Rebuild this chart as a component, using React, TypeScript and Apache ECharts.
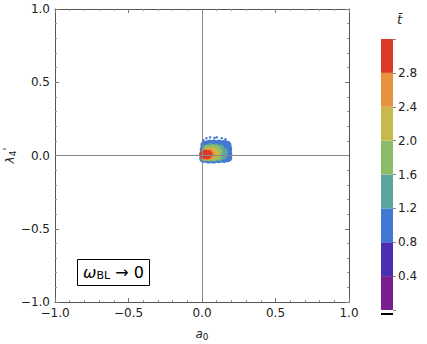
import React, { useEffect, useRef } from "react";
import * as echarts from "echarts";

const FONT = "DejaVu Sans";

// colour bins of t̄ (0–3.2 in steps of 0.4)
const binEdges = [0, 0.4, 0.8, 1.2, 1.6, 2.0, 2.4, 2.8, 3.2];
const binColors = ["#7a1f8e", "#4a2fb2", "#4277d3", "#5aa59e", "#8cbb6a", "#c9b84b", "#e8923e", "#dc3b29"];
const cbTicks = [0.4, 0.8, 1.2, 1.6, 2.0, 2.4, 2.8];

// scatter layers, [a0, lambda4']
const sparseDots = [[0.03, 0.118], [0.055, 0.124], [0.085, 0.12], [0.1, 0.124], [0.135, 0.118], [0.16, 0.11], [0.008, 0.105]];
const sparseT = 0.9;
const blueOuter = [
  [0.012, -0.02], [0.045, -0.024], [0.08, -0.024], [0.115, -0.022], [0.15, -0.02], [0.175, -0.015],
  [0.012, 0.01], [0.045, 0.01], [0.08, 0.01], [0.115, 0.01], [0.15, 0.01], [0.175, 0.012],
  [0.015, 0.04], [0.045, 0.04], [0.08, 0.04], [0.115, 0.04], [0.15, 0.04], [0.175, 0.045],
  [0.02, 0.072], [0.05, 0.078], [0.08, 0.078], [0.115, 0.078], [0.15, 0.075], [0.17, 0.07],
];
const blueT = 1.0;
const darkEdge = [[0.185, -0.025], [0.0, -0.03], [0.165, 0.085], [0.19, 0.03]];
const darkT = 0.7;
const tealBand = [
  [0.015, -0.012], [0.05, -0.016], [0.085, -0.016], [0.12, -0.012], [0.145, 0.0],
  [0.02, 0.02], [0.055, 0.022], [0.09, 0.022], [0.125, 0.022], [0.15, 0.025],
  [0.03, 0.05], [0.06, 0.058], [0.095, 0.055], [0.125, 0.05],
];
const tealT = 1.4;
const greenCore = [
  [0.02, -0.01], [0.05, -0.012], [0.08, -0.01], [0.11, -0.005],
  [0.025, 0.02], [0.055, 0.025], [0.085, 0.025], [0.115, 0.025],
  [0.04, 0.045], [0.07, 0.05], [0.1, 0.045],
];
const greenT = 1.8;
const yellowCore = [[0.015, -0.006], [0.045, -0.006], [0.075, 0.0], [0.095, 0.012], [0.02, 0.022], [0.05, 0.03], [0.08, 0.03]];
const yellowT = 2.2;
const orangeCore = [[0.012, -0.004], [0.04, -0.006], [0.065, 0.004], [0.02, 0.02], [0.048, 0.022]];
const orangeT = 2.6;
const redCore = [[0.008, 0.004], [0.035, 0.002], [0.022, 0.012], [0.045, 0.01]];
const redT = 3.0;

const fmt = (v: number) => (v < 0 ? "\u2212" + Math.abs(v).toFixed(1) : v.toFixed(1));

export default function App() {
  const ref = useRef<HTMLDivElement>(null);
  useEffect(() => {
    if (!ref.current) return;
    const chart = echarts.init(ref.current, null, { renderer: "svg" });
    const withT = (pts: number[][], t: number) => pts.map((p) => [p[0], p[1], t]);
    const layers: [number[][], number, number][] = [
      [sparseDots, sparseT, 2.5],
      [darkEdge, darkT, 3],
      [blueOuter, blueT, 9],
      [tealBand, tealT, 8],
      [greenCore, greenT, 8],
      [yellowCore, yellowT, 8],
      [orangeCore, orangeT, 8],
      [redCore, redT, 8],
    ];
    const axisLineStyle = { color: "#555", width: 1 };
    const tickCommon = { show: true, inside: true, length: 4, lineStyle: { color: "#777" } };
    const minorCommon = { show: true, splitNumber: 5, length: 2, lineStyle: { color: "#999" } };
    const mainX = {
      type: "value", min: -1, max: 1, interval: 0.5, gridIndex: 0,
      axisLine: { show: true, onZero: false, lineStyle: axisLineStyle },
      axisTick: tickCommon, minorTick: minorCommon, splitLine: { show: false },
    };
    const mainY = {
      type: "value", min: -1, max: 1, interval: 0.5, gridIndex: 0,
      axisLine: { show: true, onZero: false, lineStyle: axisLineStyle },
      axisTick: tickCommon, minorTick: minorCommon, splitLine: { show: false },
    };
    const scatterSeries = layers.map(([pts, t, size]) => ({
      type: "scatter",
      xAxisIndex: 0, yAxisIndex: 0,
      data: withT(pts, t),
      symbolSize: size,
      z: 3,
      itemStyle: { opacity: 1 },
      silent: true,
    }));
    const cbSeries = binColors.map((c, i) => ({
      type: "bar",
      xAxisIndex: 2, yAxisIndex: 2,
      stack: "cb",
      barWidth: "100%",
      data: [binEdges[i + 1] - binEdges[i]],
      itemStyle: { color: c },
      silent: true,
    }));
    const option: any = {
      animation: false,
      textStyle: { fontFamily: FONT },
      grid: [
        { left: 55, top: 9, width: 294, height: 293, containLabel: false, outerBoundsMode: "none" },
        { left: 381, top: 39, width: 12, height: 271, containLabel: false, outerBoundsMode: "none" },
      ],
      xAxis: [
        {
          ...mainX, position: "bottom",
          axisLabel: { fontSize: 12, color: "#222", margin: 5, fontFamily: FONT, formatter: fmt },
          name: "{i|a}{s|0}", nameLocation: "middle", nameGap: 24, nameMoveOverlap: false,
          nameTextStyle: { rich: { i: { fontSize: 12, fontStyle: "italic", color: "#222", fontFamily: FONT }, s: { fontSize: 9, color: "#222", verticalAlign: "bottom", padding: [6, 0, 0, 0], fontFamily: FONT } } },
        },
        { ...mainX, position: "top", axisLabel: { show: false } },
        { type: "category", gridIndex: 1, data: ["cb"], show: false },
      ],
      yAxis: [
        {
          ...mainY, position: "left",
          axisLabel: { fontSize: 12, color: "#222", margin: 5, fontFamily: FONT, formatter: fmt },
          name: "{i|λ}{s|4}{p|'}", nameLocation: "middle", nameGap: 38, nameRotate: 90, nameMoveOverlap: false,
          nameTextStyle: { rich: { i: { fontSize: 12, fontStyle: "italic", color: "#222", fontFamily: FONT }, s: { fontSize: 9, color: "#222", padding: [6, 0, 0, 0], fontFamily: FONT }, p: { fontSize: 11, color: "#222", padding: [0, 0, 4, 0], fontFamily: FONT } } },
        },
        { ...mainY, position: "right", axisLabel: { show: false } },
        {
          type: "value", gridIndex: 1, min: 0, max: 3.2, interval: 0.4, position: "right",
          axisLine: { show: false },
          axisTick: { show: true, length: 3, lineStyle: { color: "#888" } },
          splitLine: { show: false },
          axisLabel: {
            fontSize: 12, color: "#222", margin: 5, fontFamily: FONT,
            formatter: (v: number) => (cbTicks.some((t) => Math.abs(t - v) < 1e-6) ? v.toFixed(1) : ""),
          },
        },
      ],
      visualMap: {
        type: "piecewise", show: false, dimension: 2,
        seriesIndex: scatterSeries.map((_, i) => i + 1),
        pieces: binColors.map((c, i) => ({ gte: binEdges[i], lt: binEdges[i + 1], color: c })),
      },
      title: [
        {
          text: "{w|ω}{s|BL}{n| → 0}", left: 77, top: 258,
          borderColor: "#000", borderWidth: 1, padding: [5, 6, 5, 6],
          textStyle: {
            fontWeight: "normal",
            rich: {
              w: { fontSize: 16, fontStyle: "italic", fontWeight: "normal", color: "#000", fontFamily: FONT },
              s: { fontSize: 11, fontWeight: "normal", color: "#000", padding: [7, 0, 0, 0], fontFamily: FONT },
              n: { fontSize: 16, fontWeight: "normal", color: "#000", fontFamily: FONT },
            },
          },
        },
        {
          text: "t\u0304", left: 392, top: 8,
          textStyle: { fontSize: 13, fontStyle: "italic", fontWeight: "normal", color: "#222", fontFamily: FONT },
        },
      ],
      graphic: [
        { type: "rect", shape: { x: 381, y: 313, width: 12, height: 2 }, style: { fill: "#000" } },
      ],
      series: [
        {
          type: "scatter", xAxisIndex: 0, yAxisIndex: 0, data: [], z: 1, silent: true,
          markLine: {
            silent: true, symbol: "none", label: { show: false },
            lineStyle: { color: "#888", width: 1, type: "solid" },
            data: [{ xAxis: 0 }, { yAxis: 0 }],
          },
        },
        ...scatterSeries,
        ...cbSeries,
      ],
    };
    chart.setOption(option);
    return () => chart.dispose();
  }, []);
  return <div ref={ref} style={{ width: 427, height: 344, position: "absolute", left: 0, top: 0, background: "#fff" }} />;
}
